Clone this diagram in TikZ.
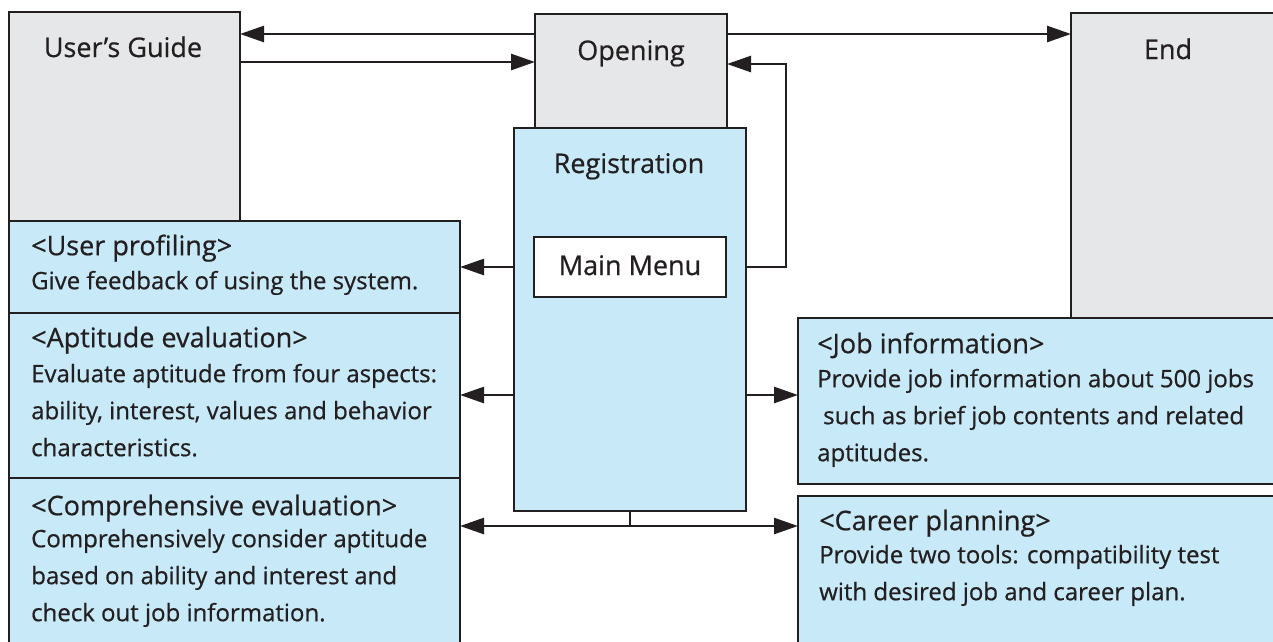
\documentclass[tikz,border=0pt]{standalone}
\usepackage{fontspec}
\setmainfont{Open Sans}[RawFeature={embolden=0.6}]
\usetikzlibrary{arrows.meta}
\definecolor{ink}{RGB}{35,31,32}
\definecolor{greyfill}{RGB}{230,231,232}
\definecolor{bluefill}{RGB}{199,233,248}
\newcommand{\hd}[1]{{\fontsize{27}{37}\selectfont #1}}
\begin{document}
\begin{tikzpicture}[x=1pt,y=-1pt,
  box/.style={draw=ink, line width=2.9pt, inner sep=0pt, outer sep=0pt, anchor=north west},
  greybox/.style={box, fill=greyfill},
  bluebox/.style={box, fill=bluefill},
  title/.style={text=ink, font=\fontsize{27}{32}\selectfont, anchor=base, inner sep=0pt},
  desc/.style={text=ink, font=\fontsize{24}{37}\selectfont, align=left, anchor=north west, inner sep=0pt},
  link/.style={draw=ink, line width=2.6pt},
  arr/.style={link, -{Triangle[length=24pt,width=16pt]}},
  arrboth/.style={link, {Triangle[length=24pt,width=16pt]}-{Triangle[length=24pt,width=16pt]}}
]
\useasboundingbox (0,0) rectangle (1273,641);
\clip (0,0) rectangle (1273,641);

% grey boxes
\node[greybox, minimum width=231pt, minimum height=209pt] (ug) at (9,12) {};
\node[greybox, minimum width=192pt, minimum height=114pt] (open) at (535,14) {};
\node[greybox, minimum width=203pt, minimum height=305pt] (end) at (1071,13) {};

% registration and main menu
\node[bluebox, minimum width=232pt, minimum height=383pt] (reg) at (514,128) {};
\node[box, fill=white, minimum width=192pt, minimum height=60pt] (mm) at (534,237) {};

% left boxes
\node[bluebox, minimum width=451pt, minimum height=92pt] (up) at (9,221) {};
\node[bluebox, minimum width=451pt, minimum height=165pt] (apt) at (9,313) {};
\node[bluebox, minimum width=451pt, minimum height=190pt] (comp) at (9,478) {};

% right boxes
\node[bluebox, minimum width=476pt, minimum height=166pt] (job) at (798,318) {};
\node[bluebox, minimum width=476pt, minimum height=180pt] (car) at (798,496) {};

% titles
\node[title] (tug) at (123,57) {User’s Guide};
\node[title] (topen) at (631,60) {Opening};
\node[title] (tend) at (1168,59) {End};
\node[title] (treg) at (629,173) {Registration};
\node[title] (tmm) at (630,275) {Main Menu};

% descriptions
\node[desc] (dup) at (31,229.1) {\strut\hd{<User profiling>}\\[-3pt]Give feedback of using the system.};
\node[desc] (dapt) at (31,321.1) {\strut\hd{<Aptitude evaluation>}\\[-2pt]Evaluate aptitude from four aspects:\\ability, interest, values and behavior\\characteristics.};
\node[desc] (dcomp) at (31,489.1) {\strut\hd{<Comprehensive evaluation>}\\[-5pt]Comprehensively consider aptitude\\based on ability and interest and\\check out job information.};
\node[desc] (djob) at (817,327.1) {\strut\hd{<Job information>}\\[-3pt]Provide job information about 500 jobs\\\hspace*{6pt}such as brief job contents and related\\aptitudes.};
\node[desc] (dcar) at (819,504.1) {\strut\hd{<Career planning>}\\[-4pt]Provide two tools: compatibility test\\with desired job and career plan.};

% connectors
\draw[arr] (open.west |- 0,34) -- (ug.east |- 0,34);
\draw[arr] (ug.east |- 0,62) -- (open.west |- 0,62);
\draw[arr] (open.east |- 0,34) -- (end.west |- 0,34);
\draw[arr] (reg.east |- mm.east) -- ++(40,0) |- (open.east |- 0,64);
\draw[arr] (reg.west |- mm.west) -- (up.east |- mm.west);
\draw[arr] (reg.west |- 0,395) -- (apt.east |- 0,395);
\draw[arr] (reg.east |- 0,395) -- (job.west |- 0,395);
\draw[link] (reg.south) -- ++(0,15) coordinate (split);
\draw[arrboth] (comp.east |- split) -- (car.west |- split);
\end{tikzpicture}
\end{document}
